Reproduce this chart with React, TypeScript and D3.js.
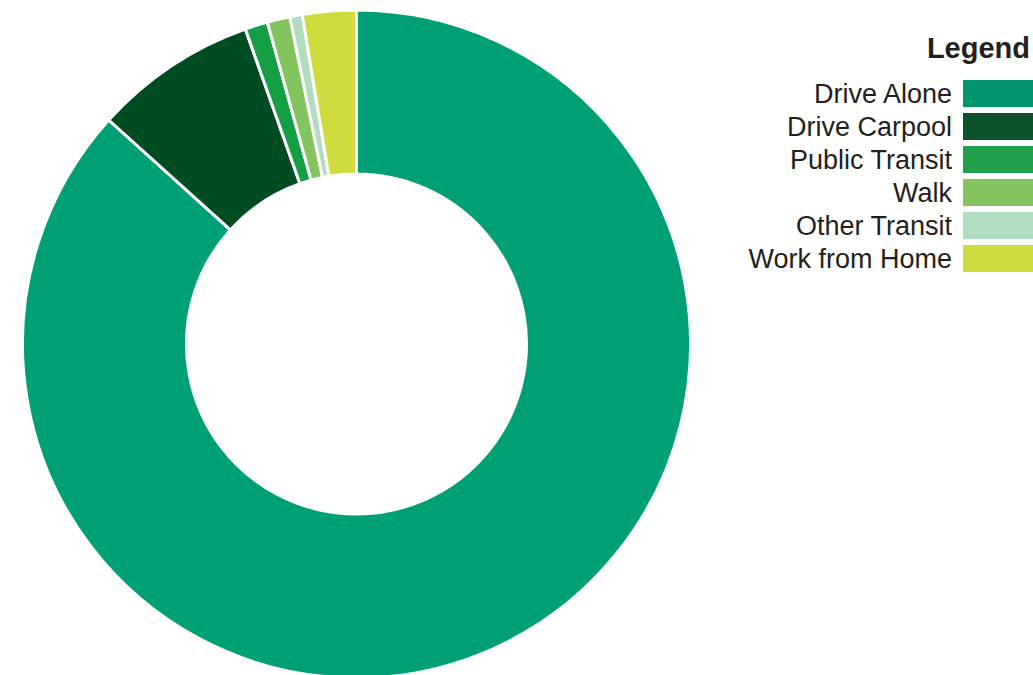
import React from "react";
import * as d3 from "d3";

const categories = ["Drive Alone", "Drive Carpool", "Public Transit", "Walk", "Other Transit", "Work from Home"];
const values = [86.7, 7.9, 1.1, 1.1, 0.6, 2.6];
const colors = ["#00A077", "#004C21", "#169E45", "#84C45E", "#B0DCC0", "#D0DC3E"];
const legendColors = ["#00956F", "#0D522A", "#20A04B", "#84C45E", "#B0DCC0", "#D0DC3E"];

const W = 1033;
const H = 675;
const cx = 356.5;
const cy = 344;
const outerR = 334;
const innerR = 170;

export default function App() {
  const data = categories.map((c, i) => ({ name: c, value: values[i] }));
  const pie = d3.pie<{ name: string; value: number }>().sort(null).value((d) => d.value);
  const arc = d3.arc<d3.PieArcDatum<{ name: string; value: number }>>().innerRadius(innerR).outerRadius(outerR);
  const arcs = pie(data);
  const color = d3.scaleOrdinal<string, string>().domain(categories).range(colors);
  const legendColor = d3.scaleOrdinal<string, string>().domain(categories).range(legendColors);
  const rowY = d3.scaleBand<string>().domain(categories).range([80, 272]).paddingInner(0.18).paddingOuter(0);

  return (
    <svg
      width={W}
      height={H}
      style={{ position: "absolute", left: 0, top: 0, display: "block", background: "#fff" }}
      fontFamily="'Liberation Sans', Arial, sans-serif"
    >
      <g transform={`translate(${cx},${cy})`}>
        {arcs.map((a) => (
          <path key={a.data.name} d={arc(a) || ""} fill={color(a.data.name)} stroke="#fff" strokeWidth={3} strokeLinejoin="miter" />
        ))}
      </g>
      <text x={1030} y={58} textAnchor="end" fontSize={29} fontWeight="bold" fill="#231F20">
        Legend
      </text>
      {categories.map((c) => {
        const y = rowY(c) as number;
        const h = rowY.bandwidth();
        return (
          <g key={c}>
            <rect x={963} y={y} width={75} height={h} fill={legendColor(c)} />
            <text x={952} y={y + h / 2 + 9.5} textAnchor="end" fontSize={27} fill="#231F20">
              {c}
            </text>
          </g>
        );
      })}
    </svg>
  );
}
